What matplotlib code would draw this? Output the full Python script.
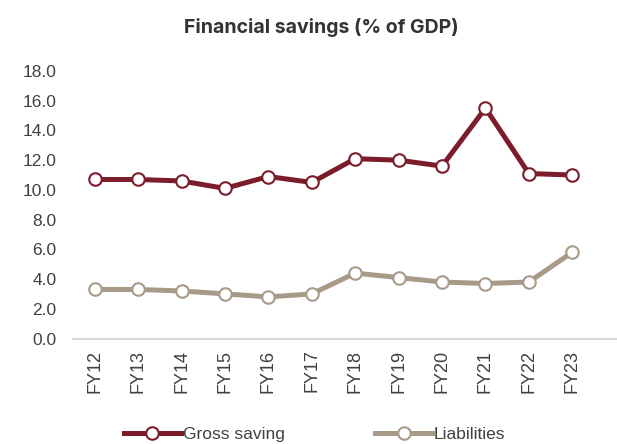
import numpy as np
import matplotlib as mpl
mpl.use("Agg")
from matplotlib import pyplot as plt

years = ["FY12", "FY13", "FY14", "FY15", "FY16", "FY17",
         "FY18", "FY19", "FY20", "FY21", "FY22", "FY23"]
gross_saving = [10.7, 10.7, 10.6, 10.1, 10.9, 10.5, 12.1, 12.0, 11.6, 15.5, 11.1, 11.0]
liabilities = [3.3, 3.3, 3.2, 3.0, 2.8, 3.0, 4.4, 4.1, 3.8, 3.7, 3.8, 5.8]
y_ticks = [0, 2, 4, 6, 8, 10, 12, 14, 16, 18]

red = "#7b1c2b"
taupe = "#a89a89"
textcolor = "#404040"

plt.rcParams["font.family"] = ["Liberation Sans", "DejaVu Sans"]

fig = plt.figure(figsize=(6.17, 4.44), dpi=100)
ax = fig.add_axes([0.1183, 0.2376, 0.8817, 0.6025])

x = np.arange(len(years))
ax.plot(x, gross_saving, color=red, lw=3.6, marker="o", markersize=9,
        markerfacecolor="white", markeredgecolor=red, markeredgewidth=1.5,
        label="Gross saving", zorder=3)
ax.plot(x, liabilities, color=taupe, lw=3.6, marker="o", markersize=9,
        markerfacecolor="white", markeredgecolor=taupe, markeredgewidth=1.5,
        label="Liabilities", zorder=3)

ax.set_ylim(0, 18)
ax.set_yticks(y_ticks)
ax.set_yticklabels([f"{v:.1f}" for v in y_ticks])
ax.set_xlim(-0.5, 12.03)
ax.set_xticks(x)
ax.set_xticklabels(years, rotation=90)

for s in ["top", "right", "left"]:
    ax.spines[s].set_visible(False)
ax.spines["bottom"].set_color("#d9d9d9")
ax.spines["bottom"].set_linewidth(1.5)
ax.tick_params(axis="both", length=0, labelcolor=textcolor)
ax.tick_params(axis="y", pad=12, labelsize=12.5)
ax.tick_params(axis="x", pad=8, labelsize=13)

fig.text(0.52, 0.938, "Financial savings (% of GDP)", ha="center", va="center",
         fontsize=14, fontweight="bold", color="#333333", family=["Inter", "DejaVu Sans"])

fig.legend(loc="center", bbox_to_anchor=(0.51, 0.022), ncol=2, frameon=False,
           fontsize=12.5, handlelength=3.3, columnspacing=5.2, handletextpad=0.1,
           labelcolor=textcolor)

fig.savefig("out.png", dpi=100)
